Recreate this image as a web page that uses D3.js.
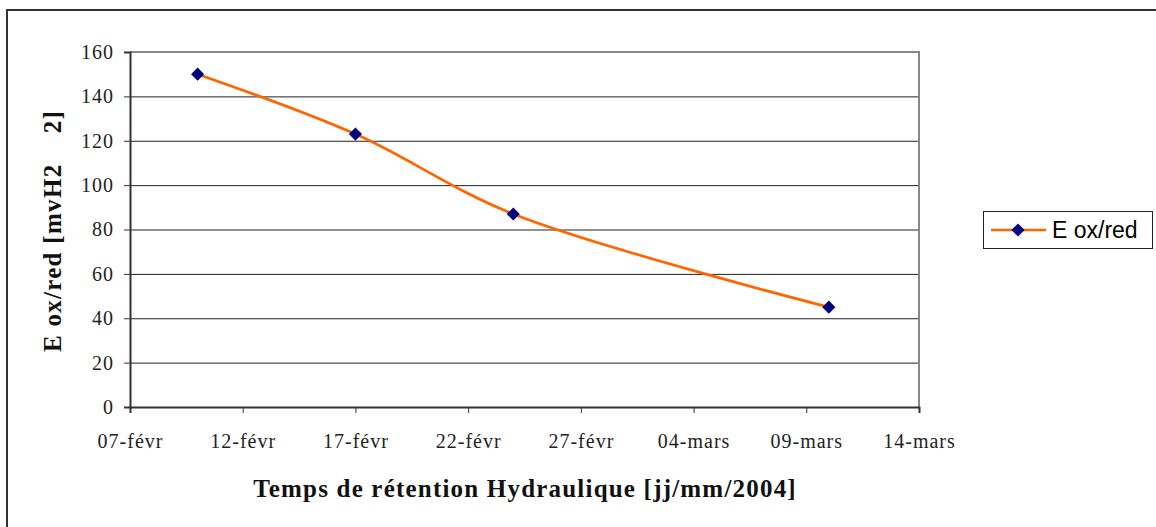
<!DOCTYPE html>
<html>
<head>
<meta charset="utf-8">
<script src="https://cdn.jsdelivr.net/npm/d3@7"></script>
<style>
  html, body { margin: 0; padding: 0; background: #fff; }
  svg { display: block; }
</style>
</head>
<body>
<svg id="chart" width="1156" height="527"></svg>
<script>
// Measurement dates (day/month) and redox potential values
const dates = ["10/02", "17/02", "24/02", "10/03"];
const values = [150, 123, 87, 45];
const yTicks = [0, 20, 40, 60, 80, 100, 120, 140, 160];
const xTickDates = ["07/02", "12/02", "17/02", "22/02", "27/02", "04/03", "09/03", "14/03"];
const xTickLabels = ["07-févr", "12-févr", "17-févr", "22-févr", "27-févr", "04-mars", "09-mars", "14-mars"];
const seriesName = "E ox/red";

const parse = d3.timeParse("%d/%m/%Y");
const toDate = s => parse(s + "/2005");

const svg = d3.select("#chart");
const serif = "'Liberation Serif', 'Times New Roman', serif";

// outer frame
svg.append("rect")
  .attr("x", 7).attr("y", 10)
  .attr("width", 1200).attr("height", 600)
  .attr("fill", "#fff").attr("stroke", "#333").attr("stroke-width", 2);

const plot = { left: 130, right: 919, top: 52, bottom: 407 };

const x = d3.scaleTime()
  .domain([toDate(xTickDates[0]), toDate(xTickDates[xTickDates.length - 1])])
  .range([plot.left, plot.right]);
const y = d3.scaleLinear().domain([0, 160]).range([plot.bottom, plot.top]);

// gridlines
svg.append("g").selectAll("line")
  .data(yTicks.filter(t => t > 0 && t < 160))
  .join("line")
  .attr("x1", plot.left).attr("x2", plot.right)
  .attr("y1", d => y(d) + 0.5).attr("y2", d => y(d) + 0.5)
  .attr("stroke", "#222").attr("stroke-width", 1);

// plot area border (top and right)
svg.append("path")
  .attr("d", `M${plot.left},${plot.top} H${plot.right} V${plot.bottom}`)
  .attr("fill", "none").attr("stroke", "#888").attr("stroke-width", 2);

// y axis
const yAxis = d3.axisLeft(y).tickValues(yTicks).tickSize(6).tickPadding(10);
const gy = svg.append("g").attr("transform", `translate(${plot.left},0)`).call(yAxis);
gy.select(".domain").attr("stroke", "#333").attr("stroke-width", 2);
gy.selectAll(".tick line").attr("stroke", "#333");
gy.selectAll(".tick text")
  .attr("font-family", serif).attr("font-size", 20).attr("letter-spacing", 1)
  .attr("fill", "#222");

// x axis
const xAxis = d3.axisBottom(x)
  .tickValues(xTickDates.map(toDate))
  .tickFormat((d, i) => xTickLabels[i])
  .tickSize(6).tickPadding(21);
const gx = svg.append("g").attr("transform", `translate(0,${plot.bottom})`).call(xAxis);
gx.select(".domain").attr("stroke", "#333").attr("stroke-width", 2);
gx.selectAll(".tick line").attr("stroke", "#333");
gx.selectAll(".tick text")
  .attr("font-family", serif).attr("font-size", 20).attr("letter-spacing", 1)
  .attr("fill", "#222");

// axis titles
svg.append("text")
  .attr("x", 525).attr("y", 497)
  .attr("text-anchor", "middle")
  .attr("font-family", serif).attr("font-size", 25).attr("font-weight", "bold")
  .attr("letter-spacing", 1.2)
  .attr("fill", "#111")
  .text("Temps de rétention Hydraulique [jj/mm/2004]");

svg.append("text")
  .attr("transform", "translate(61,231) rotate(-90)")
  .attr("text-anchor", "middle")
  .attr("font-family", serif).attr("font-size", 25).attr("font-weight", "bold")
  .attr("letter-spacing", 1.3)
  .attr("fill", "#111")
  .style("white-space", "pre")
  .text("E ox/red [mvH2    2]");

// series line
const pts = dates.map((d, i) => ({ date: toDate(d), value: values[i] }));
const line = d3.line()
  .x(d => x(d.date)).y(d => y(d.value))
  .curve(d3.curveCatmullRom.alpha(0.5));
svg.append("path")
  .datum(pts)
  .attr("d", line)
  .attr("fill", "none").attr("stroke", "#FF6600").attr("stroke-width", 2.7);

// diamond markers
const diamond = d3.symbol().type(d3.symbolDiamond2).size(110);
svg.append("g").selectAll("path")
  .data(pts)
  .join("path")
  .attr("transform", d => `translate(${x(d.date)},${y(d.value)})`)
  .attr("d", diamond)
  .attr("fill", "#000080");

// legend
const lg = svg.append("g").attr("transform", "translate(983,211)");
lg.append("rect")
  .attr("x", 0.5).attr("y", 0.5).attr("width", 169).attr("height", 37)
  .attr("fill", "#fff").attr("stroke", "#222").attr("stroke-width", 1);
lg.append("line")
  .attr("x1", 8).attr("x2", 63).attr("y1", 19).attr("y2", 19)
  .attr("stroke", "#FF6600").attr("stroke-width", 2.7);
lg.append("path")
  .attr("transform", "translate(35,19)")
  .attr("d", diamond)
  .attr("fill", "#000080");
lg.append("text")
  .attr("x", 69).attr("y", 27)
  .attr("font-family", "'Liberation Sans', Arial, sans-serif")
  .attr("font-size", 23).attr("fill", "#000")
  .text(seriesName);
</script>
</body>
</html>
